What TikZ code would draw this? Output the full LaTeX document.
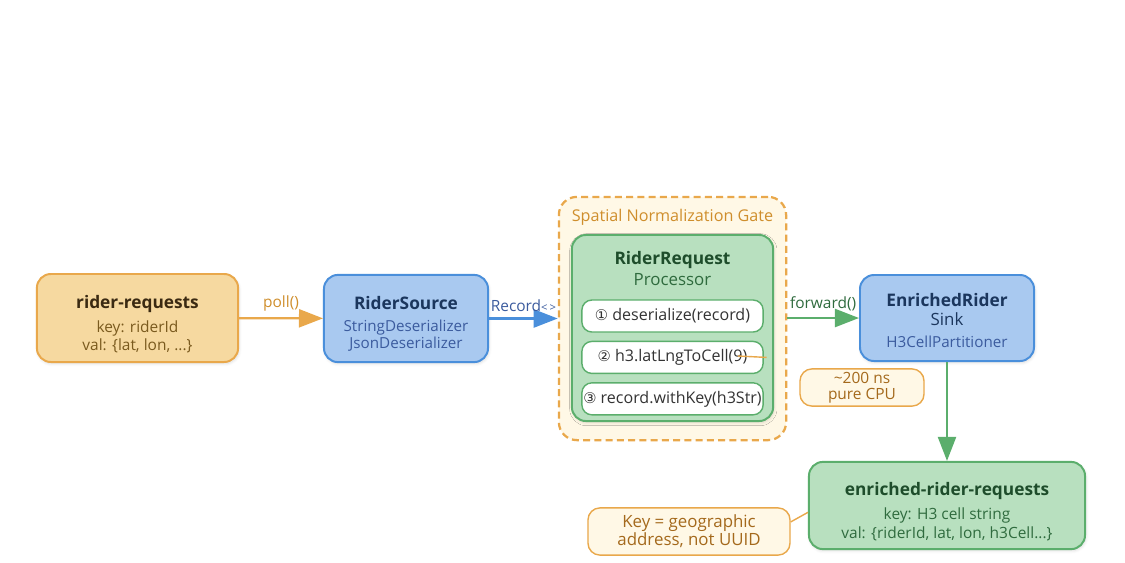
\documentclass[tikz,border=0pt]{standalone}
\usepackage{fontspec}
\setmainfont{Open Sans}
\newfontfamily\symfont{DejaVu Sans}
\usepackage{xcolor}
\usetikzlibrary{arrows.meta, positioning, shadows.blur}
\definecolor{ambr}{HTML}{E9A84B}
\definecolor{softambr}{HTML}{F6D9A0}
\definecolor{paleambr}{HTML}{FFF8E6}
\definecolor{ambrdark}{HTML}{3B2A12}
\definecolor{ambrtext}{HTML}{7A5A1E}
\definecolor{ambrlabel}{HTML}{CF8E2C}
\definecolor{notetext}{HTML}{A4691C}
\definecolor{skyb}{HTML}{4A8FDB}
\definecolor{softsky}{HTML}{A9C9F0}
\definecolor{skydark}{HTML}{1B365D}
\definecolor{skytext}{HTML}{3B5B9E}
\definecolor{leaf}{HTML}{5BAE6C}
\definecolor{softleaf}{HTML}{B8E0BF}
\definecolor{leafdark}{HTML}{1E4D2B}
\definecolor{leaftext}{HTML}{2F6B3E}
\newcommand\ttlfont{\bfseries\fontsize{12.3}{13}\selectfont}
\newcommand\bodyfont{\fontsize{11}{13}\selectfont}
\newcommand\smallfont{\fontsize{10.8}{12.5}\selectfont}
\newcommand\stepno[1]{{\symfont\fontsize{10.5}{12}\selectfont #1}~}
\newcommand\lift[1]{\rule{0pt}{#1}}
\tikzset{
  stage/.style={
    rectangle, rounded corners=0.35cm, line width=1.4pt,
    align=center, inner sep=2pt, font=\bodyfont,
    blur shadow={shadow blur steps=6, shadow xshift=0.6pt, shadow yshift=-1.2pt, shadow opacity=14}
  },
  topicbox/.style={stage, fill=softambr, draw=ambr, text=ambrtext},
  srcbox/.style={stage, fill=softsky, draw=skyb, text=skytext},
  leafbox/.style={stage, fill=softleaf, draw=leaf, text=leaftext},
  stepbox/.style={rectangle, rounded corners=0.25cm, draw=leaf, line width=1pt, fill=white,
    minimum width=4.53cm, minimum height=0.8cm, inner sep=1pt,
    font=\fontsize{11.4}{13}\selectfont, text=black!80},
  gatebox/.style={rectangle, rounded corners=0.45cm, draw=ambr, fill=paleambr, line width=1.6pt,
    dash pattern=on 5pt off 3pt, minimum width=5.68cm, minimum height=6.08cm},
  notebox/.style={rectangle, rounded corners=0.3cm, draw=ambr, fill=paleambr, line width=1pt,
    align=center, text=notetext, font=\fontsize{11}{11.5}\selectfont, inner sep=1pt},
  flow/.style={-{Triangle[length=0.6cm, width=0.45cm]}, line width=1.6pt},
  flowlabel/.style={font=\fontsize{11}{13}\selectfont, inner sep=2pt},
  noteline/.style={draw=ambr, line width=1pt},
}
\begin{document}
\begin{tikzpicture}[x=0.025cm, y=-0.025cm]
  \useasboundingbox (0,0) rectangle (1125,562);

  \node[topicbox, minimum width=5.03cm, minimum height=2.2cm] (topic) at (137.5,318)
    {\lift{18pt}{\ttlfont\color{ambrdark}rider-requests}\\[4pt]key: riderId\\val: \{lat, lon, ...\}};

  \node[srcbox, font=\smallfont, minimum width=4.1cm, minimum height=2.18cm] (source) at (406,318.5)
    {\lift{17pt}{\ttlfont\color{skydark}RiderSource}\\[3pt]StringDeserializer\\JsonDeserializer};

  \node[gatebox] (gate) at (672.5,318.5) {};
  \node[text=ambrlabel, font=\fontsize{11.5}{13}\selectfont, below=0.22cm of gate.north] (gatename)
    {Spatial Normalization Gate};

  \node[leafbox, minimum width=5.03cm, minimum height=4.65cm] (proc) at (672.5,328) {};
  \node[text=leafdark, font=\ttlfont, below=0.3cm of proc.north] (proctitle) {RiderRequest};
  \node[text=leaftext, font=\fontsize{12}{14}\selectfont, below=-0.12cm of proctitle] (procsub) {Processor};

  \node[stepbox] (step1) at (672.5,316) {\stepno{①}deserialize(record)};
  \node[stepbox, below=0.2cm of step1] (step2) {\stepno{②}h3.latLngToCell(9)};
  \node[stepbox, below=0.2cm of step2] (step3) {\stepno{③}record.withKey(h3Str)};

  \node[srcbox, font=\smallfont, minimum width=4.35cm, minimum height=2.15cm] (sink) at (947,318)
    {\lift{13pt}{\ttlfont\color{skydark}EnrichedRider}\\[1pt]{\color{skydark}\fontsize{12}{14}\selectfont Sink}\\[3pt]H3CellPartitioner};

  \node[notebox, minimum width=3.1cm, minimum height=0.93cm] (cpunote) at (862,387.5)
    {\textasciitilde200 ns\\pure CPU};

  \node[leafbox, minimum width=6.9cm, minimum height=2.18cm] (out) at (947,505.5)
    {\lift{18pt}{\ttlfont\color{leafdark}enriched-rider-requests}\\[4pt]key: H3 cell string\\val: \{riderId, lat, lon, h3Cell...\}};

  \node[notebox, minimum width=5.05cm, minimum height=1.18cm, font=\fontsize{12}{13}\selectfont] (keynote) at (689,531.5)
    {Key = geographic\\address, not UUID};

  \draw[flow, draw=ambr] (topic) -- (source)
    node[flowlabel, midway, above=2pt, text=ambrlabel] {poll()};
  \draw[flow, draw=skyb] (source) -- (gate)
    node[flowlabel, midway, above=2pt, text=skytext] {Record{\footnotesize<\,>}};
  \draw[flow, draw=leaf] (gate.east |- sink.west) -- (sink.west)
    node[flowlabel, midway, above=2pt, text=leaftext] {forward()};
  \draw[flow, draw=leaf] (sink) -- (out);

  \coordinate (tick) at (738,356);
  \draw[noteline] (tick) -- ([xshift=0.07cm]step2.east);
  \draw[noteline] ([yshift=0.24cm]keynote.east) -- ([yshift=-0.17cm]out.west);
\end{tikzpicture}
\end{document}
